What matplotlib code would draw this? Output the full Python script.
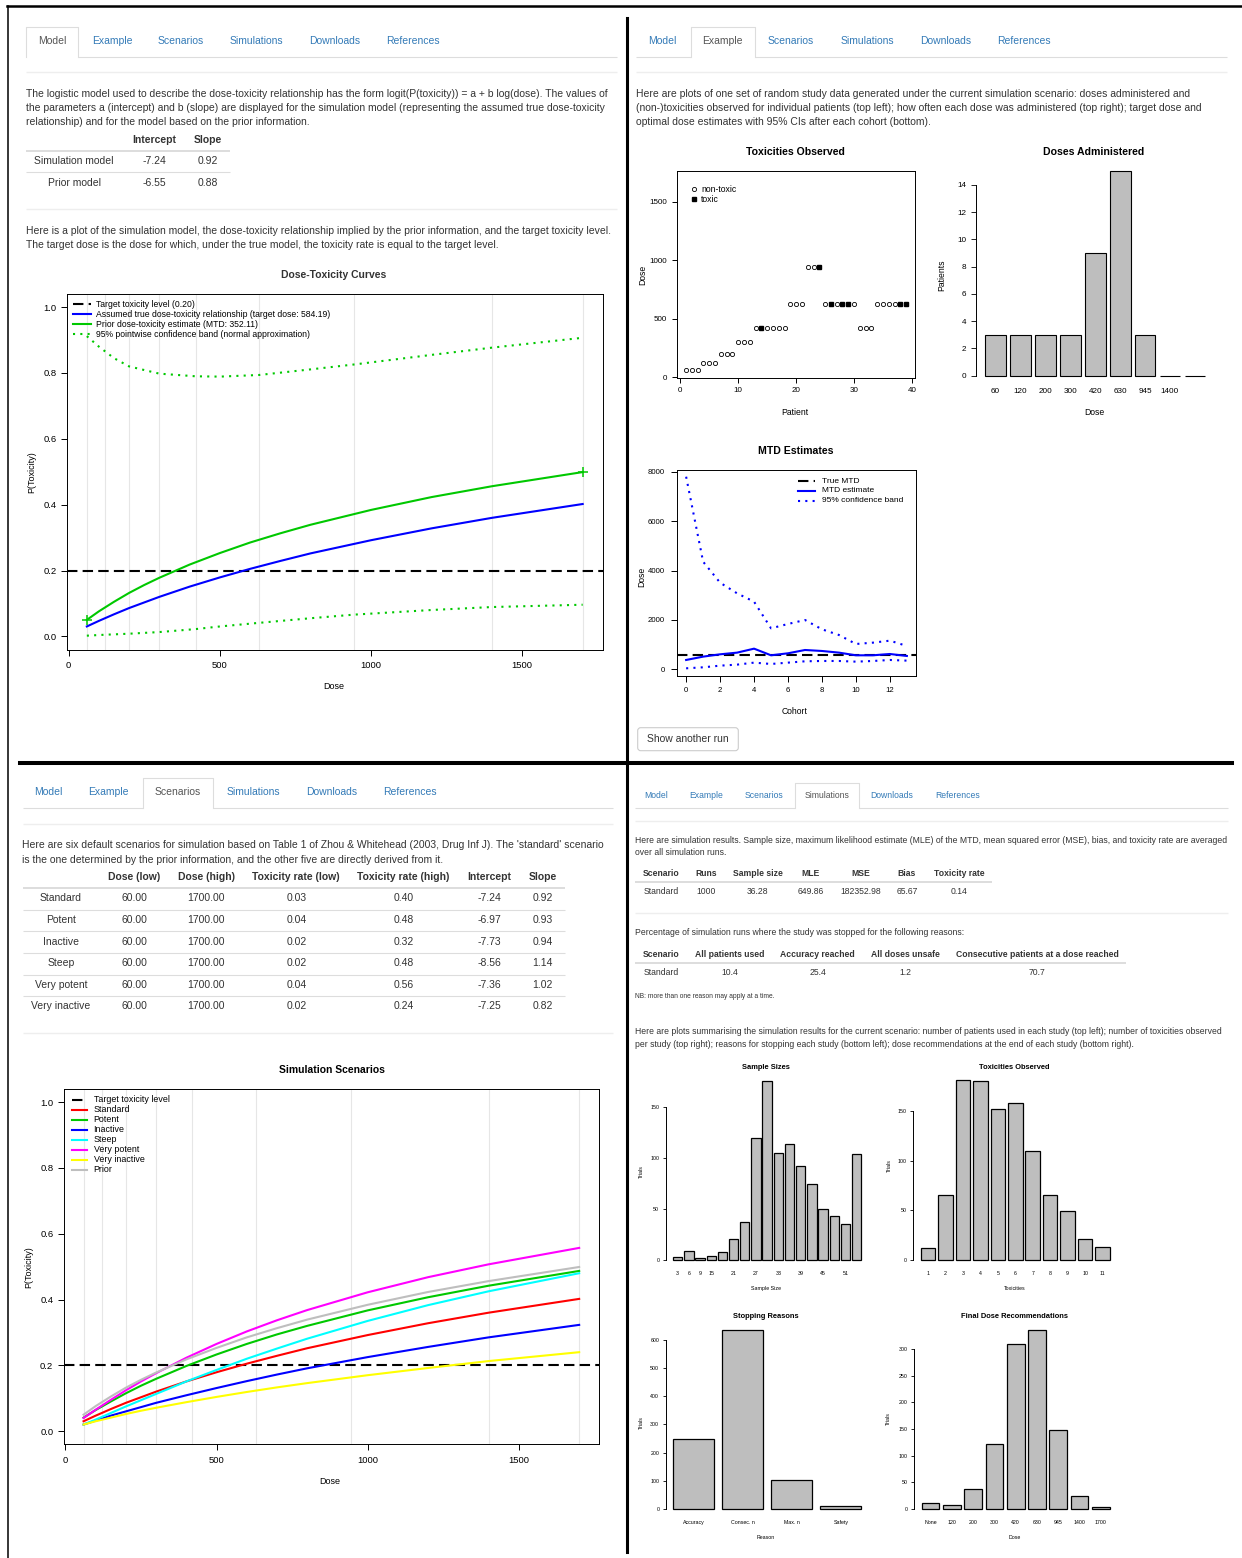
#!/usr/bin/env python3
"""Four panels of the dose-escalation app: Model, Example, Scenarios, Simulations."""

import numpy as np
import matplotlib
matplotlib.use("Agg")
import matplotlib.pyplot as plt
from matplotlib.patches import FancyBboxPatch

W, H = 1242, 1558

# ---------------- data ----------------
tab_names = ["Model", "Example", "Scenarios", "Simulations", "Downloads", "References"]
dose_levels = [60, 120, 200, 300, 420, 630, 945, 1400, 1700]

model_rows = ["Simulation model", "Prior model"]
model_intercept = ["-7.24", "-6.55"]
model_slope = ["0.92", "0.88"]

# dose-toxicity curves, P(toxicity) read at these doses
curve_doses = [60, 100, 150, 200, 250, 300, 400, 500, 600, 700, 800, 1000, 1200, 1400, 1700]
p_standard = [0.030, 0.047, 0.067, 0.086, 0.103, 0.120, 0.151, 0.179, 0.205, 0.229, 0.252, 0.292, 0.328, 0.360, 0.402]
p_prior = [0.050, 0.076, 0.105, 0.132, 0.156, 0.178, 0.218, 0.253, 0.285, 0.313, 0.339, 0.384, 0.423, 0.456, 0.499]
p_potent = [0.041, 0.064, 0.090, 0.115, 0.138, 0.159, 0.198, 0.233, 0.265, 0.294, 0.320, 0.367, 0.407, 0.442, 0.487]
p_inactive = [0.020, 0.032, 0.047, 0.060, 0.073, 0.086, 0.109, 0.131, 0.152, 0.172, 0.191, 0.225, 0.256, 0.285, 0.323]
p_steep = [0.020, 0.035, 0.055, 0.075, 0.094, 0.113, 0.151, 0.186, 0.220, 0.251, 0.281, 0.335, 0.383, 0.425, 0.480]
p_very_potent = [0.040, 0.065, 0.095, 0.124, 0.151, 0.176, 0.223, 0.265, 0.303, 0.337, 0.368, 0.422, 0.468, 0.507, 0.557]
p_very_inactive = [0.020, 0.030, 0.041, 0.052, 0.062, 0.071, 0.088, 0.104, 0.119, 0.133, 0.146, 0.170, 0.192, 0.213, 0.240]
target_tox = 0.20

band_doses = [60, 100, 150, 200, 300, 420, 500, 630, 800, 945, 1200, 1400, 1700]
band_upper = [0.912, 0.880, 0.845, 0.820, 0.798, 0.790, 0.789, 0.794, 0.811, 0.826, 0.855, 0.877, 0.907]
band_lower = [0.002, 0.004, 0.006, 0.008, 0.013, 0.022, 0.030, 0.041, 0.055, 0.066, 0.080, 0.089, 0.096]

# example run
patient_dose = [60, 60, 60, 120, 120, 120, 200, 200, 200, 300, 300, 300,
                420, 420, 420, 420, 420, 420, 630, 630, 630, 945, 945, 945,
                630, 630, 630, 630, 630, 630, 420, 420, 420,
                630, 630, 630, 630, 630, 630]
patient_toxic = [0, 0, 0, 0, 0, 0, 0, 0, 0, 0, 0, 0,
                 0, 1, 0, 0, 0, 0, 0, 0, 0, 0, 0, 1,
                 0, 1, 0, 1, 1, 0, 0, 0, 0,
                 0, 0, 0, 0, 1, 1]
admin_counts = [3, 3, 3, 3, 9, 15, 3, 0, 0]
admin_labels = ["60", "120", "200", "300", "420", "630", "945", "1400", ""]

cohorts = list(range(14))
mtd_estimate = [378, 513, 607, 675, 836, 567, 648, 782, 742, 675, 567, 567, 620, 540]
mtd_upper = [7797, 4357, 3507, 3076, 2738, 1659, 1835, 1997, 1619, 1389, 1025, 1079, 1160, 944]
mtd_lower = [40, 81, 148, 189, 270, 216, 270, 324, 337, 337, 310, 337, 378, 351]
true_mtd = 584.19

# scenarios table
scen_names = ["Standard", "Potent", "Inactive", "Steep", "Very potent", "Very inactive"]
scen_dose_low = [60.0, 60.0, 60.0, 60.0, 60.0, 60.0]
scen_dose_high = [1700.0, 1700.0, 1700.0, 1700.0, 1700.0, 1700.0]
scen_tox_low = [0.03, 0.04, 0.02, 0.02, 0.04, 0.02]
scen_tox_high = [0.40, 0.48, 0.32, 0.48, 0.56, 0.24]
scen_intercept = [-7.24, -6.97, -7.73, -8.56, -7.36, -7.25]
scen_slope = [0.92, 0.93, 0.94, 1.14, 1.02, 0.82]

# simulation results
sim_headers = ["Scenario", "Runs", "Sample size", "MLE", "MSE", "Bias", "Toxicity rate"]
sim_values = ["Standard", "1000", "36.28", "649.86", "182352.98", "65.67", "0.14"]
stop_headers = ["Scenario", "All patients used", "Accuracy reached", "All doses unsafe",
                "Consecutive patients at a dose reached"]
stop_values = ["Standard", "10.4", "25.4", "1.2", "70.7"]

sample_sizes = [3, 6, 9, 15, 18, 21, 24, 27, 30, 33, 36, 39, 42, 45, 48, 51, 54]
sample_trials = [3, 9, 2, 4, 8, 21, 37, 120, 175, 105, 114, 92, 75, 50, 43, 35, 104]
sample_shown = [3, 6, 9, 15, 21, 27, 33, 39, 45, 51]
tox_counts = [1, 2, 3, 4, 5, 6, 7, 8, 9, 10, 11]
tox_trials = [12, 65, 181, 180, 152, 158, 110, 65, 49, 21, 13]
stop_reasons = ["Accuracy", "Consec. n", "Max. n", "Safety"]
stop_trials = [247, 637, 104, 12]
final_doses = ["None", "120", "200", "300", "420", "630", "945", "1400", "1700"]
final_trials = [12, 8, 37, 122, 310, 335, 149, 24, 3]

# ---------------- styling ----------------
TEXT = "#333333"
LINK = "#337ab7"
GREEN = "#00c800"
GRAY_BAR = "#bebebe"
DASH = (0, (5, 2.5))
DOT = (0, (1, 2.5))

plt.rcParams['font.family'] = ['Liberation Sans', 'DejaVu Sans']
fig = plt.figure(figsize=(W / 100, H / 100), dpi=100)

# overlay in pixel coordinates for all page text and rules
ov = fig.add_axes([0, 0, 1, 1], zorder=10)
ov.set_xlim(0, W)
ov.set_ylim(H, 0)
ov.axis('off')


def px_axes(x0, y0, x1, y1):
    return fig.add_axes([x0 / W, 1 - y1 / H, (x1 - x0) / W, (y1 - y0) / H])


def txt(x, y, s, size=7.5, ha='left', weight='normal', color=TEXT, rot=0):
    ov.text(x, y, s, fontsize=size, ha=ha, va='center', fontweight=weight,
            color=color, rotation=rot)


def hline(y, x0, x1, color='#dddddd', lw=0.8):
    ov.plot([x0, x1], [y, y], color=color, lw=lw, solid_capstyle='butt')


def draw_tabs(xs, active, y, box, line_x, size):
    bx0, bx1, btop, bline = box
    for i, (name, x) in enumerate(zip(tab_names, xs)):
        txt(x, y, name, size=size, ha='center', color='#555555' if i == active else LINK)
    hline(bline, line_x[0], bx0)
    hline(bline, bx1, line_x[1])
    ov.plot([bx0, bx0, bx1, bx1], [bline, btop, btop, bline], color='#dddddd', lw=0.8)


def r_axes(box, xlim, ylim, fs, tick_len, xpad, ypad):
    ax = px_axes(*box)
    ax.set_xlim(*xlim)
    ax.set_ylim(*ylim)
    for s in ax.spines.values():
        s.set_linewidth(0.7)
    ax.tick_params(direction='out', length=tick_len, width=0.7, labelsize=fs)
    ax.tick_params(axis='x', pad=xpad)
    ax.tick_params(axis='y', pad=ypad)
    return ax


def r_barplot(box, heights, labels, yticks, fs, lw, tick_len, xpad, ypad):
    n = len(heights)
    xs = 0.7 + 1.2 * np.arange(n)
    lo, hi = 0.2, 1.2 * n
    ylo, yhi = -0.01 * max(heights), max(heights)
    ax = px_axes(*box)
    ax.set_xlim(lo - 0.04 * (hi - lo), hi + 0.04 * (hi - lo))
    ax.set_ylim(ylo - 0.04 * (yhi - ylo), yhi + 0.04 * (yhi - ylo))
    ax.bar(xs, heights, width=1.0, color=GRAY_BAR, edgecolor='black', linewidth=lw)
    for side in ['top', 'right', 'bottom']:
        ax.spines[side].set_visible(False)
    ax.spines['left'].set_bounds(yticks[0], yticks[-1])
    ax.spines['left'].set_linewidth(0.7)
    ax.set_xticks(xs)
    ax.set_xticklabels(labels)
    ax.set_yticks(yticks)
    ax.tick_params(axis='x', length=0, labelsize=fs, pad=xpad)
    ax.tick_params(axis='y', direction='out', length=tick_len, width=0.6, labelsize=fs, pad=ypad)
    return ax


# ---------------- frame rules ----------------
ov.plot([7, W], [6, 6], color='black', lw=1.8)
ov.plot([8, 8], [6, H], color='black', lw=1.1)
ov.plot([627, 627], [18, 1552], color='black', lw=2.2)
ov.plot([20, 1232], [763, 763], color='black', lw=2.9)

# =============== top-left: Model ===============
draw_tabs([52, 112, 181, 256.5, 335, 413], 0, 41, (26, 78, 27, 57), (26, 617), 7.5)
hline(72, 26, 617, color='#eeeeee', lw=1)
for y, s in zip([94, 108, 122], [
        "The logistic model used to describe the dose-toxicity relationship has the form logit(P(toxicity)) = a + b log(dose). The values of",
        "the parameters a (intercept) and b (slope) are displayed for the simulation model (representing the assumed true dose-toxicity",
        "relationship) and for the model based on the prior information."]):
    txt(26, y, s)
txt(154, 140, "Intercept", ha='center', weight='bold')
txt(208, 140, "Slope", ha='center', weight='bold')
hline(151, 26, 230, lw=1.4)
for i, y in enumerate([161, 183]):
    txt(74, y, model_rows[i], ha='center')
    txt(154, y, model_intercept[i], ha='center')
    txt(208, y, model_slope[i], ha='center')
hline(172, 26, 230)
hline(209, 26, 617, color='#eeeeee', lw=1)
txt(26, 231, "Here is a plot of the simulation model, the dose-toxicity relationship implied by the prior information, and the target toxicity level.")
txt(26, 245, "The target dose is the dose for which, under the true model, the toxicity rate is equal to the target level.")
txt(334, 275, "Dose-Toxicity Curves", ha='center', weight='bold')

ax = r_axes((67, 294, 602.5, 649.5), (-5.6, 1765.6), (-0.04, 1.04), 6.8, 4, 4.3, 3.5)
for d in dose_levels:
    ax.axvline(d, color='#e6e6e6', lw=0.8, zorder=0)
ax.axhline(target_tox, color='black', lw=1.5, ls=DASH)
ax.plot(curve_doses, p_standard, color='blue', lw=1.5)
ax.plot(curve_doses, p_prior, color=GREEN, lw=1.5)
ax.plot([curve_doses[0], curve_doses[-1]], [p_prior[0], p_prior[-1]], '+', color=GREEN, ms=7, mew=1.1)
ax.plot(band_doses, band_upper, color=GREEN, lw=1.5, ls=DOT)
ax.plot(band_doses, band_lower, color=GREEN, lw=1.5, ls=DOT)
ax.set_xticks([0, 500, 1000, 1500])
ax.set_yticks([0, 0.2, 0.4, 0.6, 0.8, 1.0])
ax.set_yticklabels(['0.0', '0.2', '0.4', '0.6', '0.8', '1.0'])
txt(32, 472, "P(Toxicity)", size=6.5, ha='center', rot=90, color='black')
txt(334, 686, "Dose", size=6.5, ha='center', color='black')

leg_tl = [("Target toxicity level (0.20)", 'black', DASH),
          ("Assumed true dose-toxicity relationship (target dose: 584.19)", 'blue', '-'),
          ("Prior dose-toxicity estimate (MTD: 352.11)", GREEN, '-'),
          ("95% pointwise confidence band (normal approximation)", GREEN, DOT)]
for (s, c, ls), y in zip(leg_tl, [304.3, 314.3, 324.3, 334.3]):
    ov.plot([73, 91], [y, y], color=c, ls=ls, lw=1.5)
    txt(96.5, y, s, size=6.2, color='black')

# =============== top-right: Example ===============
draw_tabs([662, 722.6, 791, 867, 946, 1024], 1, 41, (691, 755, 27, 57), (636, 1227), 7.5)
hline(72, 636, 1227, color='#eeeeee', lw=1)
for y, s in zip([94, 108, 122], [
        "Here are plots of one set of random study data generated under the current simulation scenario: doses administered and",
        "(non-)toxicities observed for individual patients (top left); how often each dose was administered (top right); target dose and",
        "optimal dose estimates with 95% CIs after each cohort (bottom)."]):
    txt(636, y, s)

txt(795, 152, "Toxicities Observed", size=7.6, ha='center', weight='bold', color='black')
ax = r_axes((677.3, 171, 915, 377.7), (-0.52, 40.52), (-5.6, 1765.6), 5.8, 3.6, 3.4, 4)
pat = np.arange(1, len(patient_dose) + 1)
pdose = np.array(patient_dose)
tox = np.array(patient_toxic, dtype=bool)
ax.plot(pat[~tox], pdose[~tox], 'o', mfc='none', mec='black', ms=3.0, mew=0.6)
ax.plot(pat[tox], pdose[tox], 's', color='black', ms=2.8)
ax.set_xticks([0, 10, 20, 30, 40])
ax.set_yticks([0, 500, 1000, 1500])
ov.plot([694], [189], 'o', mfc='none', mec='black', ms=3.0, mew=0.6)
ov.plot([694], [199], 's', color='black', ms=2.8)
txt(701, 189, "non-toxic", size=6.2, color='black')
txt(701, 199, "toxic", size=6.2, color='black')
txt(642.7, 275, "Dose", size=6.2, ha='center', rot=90, color='black')
txt(795, 412.7, "Patient", size=6.2, ha='center', color='black')

txt(1094, 152, "Doses Administered", size=7.6, ha='center', weight='bold', color='black')
r_barplot((976.2, 163.1, 1214.2, 386), admin_counts, admin_labels, list(range(0, 15, 2)),
          5.9, 0.8, 3.6, 1.5, 3.3)
txt(941.8, 275, "Patients", size=6.2, ha='center', rot=90, color='black')
txt(1094, 412.7, "Dose", size=6.2, ha='center', color='black')

txt(795.7, 450.7, "MTD Estimates", size=7.6, ha='center', weight='bold', color='black')
ax = r_axes((677.3, 470, 915.7, 676), (-0.52, 13.52), (-271, 8069), 5.6, 4, 4, 5)
ax.axhline(true_mtd, color='black', lw=1.5, ls=DASH)
ax.plot(cohorts, mtd_estimate, color='blue', lw=1.5)
ax.plot(cohorts, mtd_upper, color='blue', lw=1.5, ls=DOT)
ax.plot(cohorts, mtd_lower, color='blue', lw=1.5, ls=DOT)
ax.set_xticks(list(range(0, 13, 2)))
ax.set_yticks([0, 2000, 4000, 6000, 8000])
for (s, c, ls), y in zip([("True MTD", 'black', DASH), ("MTD estimate", 'blue', '-'),
                          ("95% confidence band", 'blue', DOT)], [481, 490.7, 500.7]):
    ov.plot([798, 815], [y, y], color=c, ls=ls, lw=1.5)
    txt(821.7, y, s, size=6.0, color='black')
txt(642, 576.7, "Dose", size=6.2, ha='center', rot=90, color='black')
txt(795, 711.7, "Cohort", size=6.2, ha='center', color='black')

ov.add_patch(FancyBboxPatch((637.7, 727.7), 100.6, 23, boxstyle='round,pad=0,rounding_size=3',
                            fc='white', ec='#cccccc', lw=0.8))
txt(688, 739.2, "Show another run", ha='center')

# =============== bottom-left: Scenarios ===============
draw_tabs([48.4, 108.8, 178, 253, 331.6, 410], 2, 792.3, (143.3, 212.8, 778, 808.3), (22.5, 613), 7.5)
hline(824, 22.5, 613, color='#eeeeee', lw=1)
txt(22.5, 845.3, "Here are six default scenarios for simulation based on Table 1 of Zhou & Whitehead (2003, Drug Inf J). The 'standard' scenario")
txt(22.5, 859.7, "is the one determined by the prior information, and the other five are directly derived from it.")
scen_cols = [134, 206, 296.3, 403.4, 489.3, 542.6]
for x, s in zip(scen_cols, ["Dose (low)", "Dose (high)", "Toxicity rate (low)",
                            "Toxicity rate (high)", "Intercept", "Slope"]):
    txt(x, 877, s, ha='center', weight='bold')
hline(888.3, 22.5, 565, lw=1.4)
row_y = [898.3, 920, 941.7, 963.3, 985, 1006.3]
for i, y in enumerate(row_y):
    cells = [f"{scen_dose_low[i]:.2f}", f"{scen_dose_high[i]:.2f}", f"{scen_tox_low[i]:.2f}",
             f"{scen_tox_high[i]:.2f}", f"{scen_intercept[i]:.2f}", f"{scen_slope[i]:.2f}"]
    txt(61, y, scen_names[i], ha='center')
    for x, s in zip(scen_cols, cells):
        txt(x, y, s, ha='center')
    if i < len(row_y) - 1:
        hline(y + 11.4, 22.5, 565)
hline(1032.7, 22.5, 613, color='#eeeeee', lw=1)

txt(331.6, 1070, "Simulation Scenarios", ha='center', weight='bold', color='black')
ax = r_axes((63.7, 1089, 599, 1444.3), (-5.6, 1765.6), (-0.04, 1.04), 6.8, 4, 4.3, 3.5)
for d in dose_levels:
    ax.axvline(d, color='#e6e6e6', lw=0.8, zorder=0)
ax.axhline(target_tox, color='black', lw=1.5, ls=DASH)
scen_curves = [(p_standard, 'red'), (p_potent, GREEN), (p_inactive, 'blue'), (p_steep, 'cyan'),
               (p_very_potent, 'magenta'), (p_very_inactive, 'yellow'), (p_prior, '#bebebe')]
for p, c in scen_curves:
    ax.plot(curve_doses, p, color=c, lw=1.5)
ax.set_xticks([0, 500, 1000, 1500])
ax.set_yticks([0, 0.2, 0.4, 0.6, 0.8, 1.0])
ax.set_yticklabels(['0.0', '0.2', '0.4', '0.6', '0.8', '1.0'])
txt(28.8, 1267, "P(Toxicity)", size=6.5, ha='center', rot=90, color='black')
txt(330, 1481, "Dose", size=6.5, ha='center', color='black')
leg_bl = ["Target toxicity level"] + scen_names + ["Prior"]
leg_bl_col = ['black'] + [c for _, c in scen_curves]
for i, (s, c) in enumerate(zip(leg_bl, leg_bl_col)):
    y = 1100 + 10 * i
    ov.plot([71.6, 86.5], [y, y], color=c, lw=1.5, ls=DASH if i == 0 else '-')
    txt(93.5, y, s, size=6.4, color='black')

# =============== bottom-right: Simulations ===============
draw_tabs([656.6, 706, 764, 826.8, 892, 957.6], 3, 795.3, (795, 859, 783.3, 808.3), (635, 1228), 6.2)
hline(821, 635, 1228, color='#eeeeee', lw=1)
txt(635, 840.3, "Here are simulation results. Sample size, maximum likelihood estimate (MLE) of the MTD, mean squared error (MSE), bias, and toxicity rate are averaged", size=6.2)
txt(635, 852.7, "over all simulation runs.", size=6.2)
sim_cols = [661.3, 706, 757.6, 811, 860.5, 907, 959]
for x, h, v in zip(sim_cols, sim_headers, sim_values):
    txt(x, 873.3, h, size=6.2, ha='center', weight='bold')
    txt(x, 891.7, v, size=6.2, ha='center')
hline(882.3, 635, 992, lw=1.4)
hline(913.3, 635, 1228, color='#eeeeee', lw=1)
txt(635, 932.7, "Percentage of simulation runs where the study was stopped for the following reasons:", size=6.2)
stop_cols = [661.3, 729.8, 817.8, 905.5, 1037]
for x, h, v in zip(stop_cols, stop_headers, stop_values):
    txt(x, 954, h, size=6.2, ha='center', weight='bold')
    txt(x, 972.3, v, size=6.2, ha='center')
hline(963.3, 635, 1126, lw=1.4)
txt(635, 996.7, "NB: more than one reason may apply at a time.", size=4.8)
txt(635, 1032, "Here are plots summarising the simulation results for the current scenario: number of patients used in each study (top left); number of toxicities observed", size=6.2)
txt(635, 1044.3, "per study (top right); reasons for stopping each study (bottom left); dose recommendations at the end of each study (bottom right).", size=6.2)

FS_BR = 3.8
txt(766, 1067.3, "Sample Sizes", size=5.4, ha='center', weight='bold', color='black')
sample_labels = [str(s) if s in sample_shown else '' for s in sample_sizes]
r_barplot((665.5, 1074, 868.8, 1269.3), sample_trials, sample_labels, [0, 50, 100, 150],
          FS_BR, 0.9, 2, 1.5, 2.5)
txt(641, 1171.7, "Trials", size=FS_BR, ha='center', rot=90, color='black')
txt(766, 1288.3, "Sample Size", size=FS_BR, ha='center', color='black')

txt(1014.7, 1067.3, "Toxicities Observed", size=5.4, ha='center', weight='bold', color='black')
r_barplot((913.2, 1073, 1117.4, 1269), tox_trials, [str(t) for t in tox_counts], [0, 50, 100, 150],
          FS_BR, 0.9, 2, 1.5, 2.5)
txt(889.5, 1166, "Trials", size=FS_BR, ha='center', rot=90, color='black')
txt(1014.7, 1288.3, "Toxicities", size=FS_BR, ha='center', color='black')

txt(766, 1316, "Stopping Reasons", size=5.4, ha='center', weight='bold', color='black')
r_barplot((665.5, 1322.3, 868.8, 1518), stop_trials, stop_reasons, list(range(0, 601, 100)),
          FS_BR, 0.9, 2, 1.5, 2.5)
txt(641, 1423, "Trials", size=FS_BR, ha='center', rot=90, color='black')
txt(766, 1537.3, "Reason", size=FS_BR, ha='center', color='black')

txt(1014.7, 1316, "Final Dose Recommendations", size=5.4, ha='center', weight='bold', color='black')
r_barplot((914.1, 1323.1, 1117.3, 1518), final_trials, final_doses, list(range(0, 301, 50)),
          FS_BR, 0.9, 2, 1.5, 2.5)
txt(888, 1419, "Trials", size=FS_BR, ha='center', rot=90, color='black')
txt(1014.7, 1537.3, "Dose", size=FS_BR, ha='center', color='black')

fig.savefig("out.png", dpi=100)
